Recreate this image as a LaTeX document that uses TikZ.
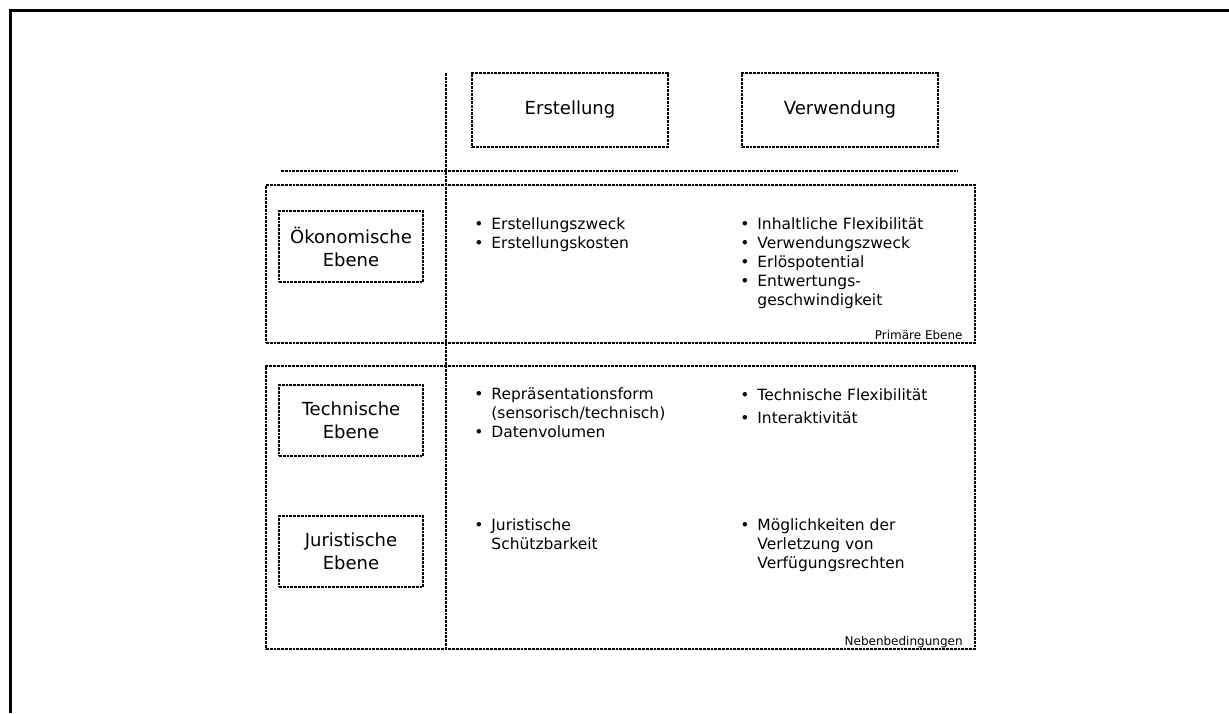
\documentclass[tikz,border=0pt]{standalone}
\usepackage{fontspec}
\setmainfont{DejaVu Sans}
\usetikzlibrary{positioning}

\tikzset{
  dots/.style={line width=1pt, dash pattern=on 1.4pt off 0.5pt},
  headbox/.style={draw, dots, minimum width=98pt, minimum height=37pt, inner sep=0pt, font=\fontsize{9}{11.5}\selectfont},
  levelbox/.style={draw, dots, minimum width=72pt, minimum height=35.5pt, inner sep=0pt, align=center, font=\fontsize{9}{11.5}\selectfont},
  levelframe/.style={draw, dots, minimum width=354.5pt, inner sep=0pt},
  items/.style={inner sep=0pt, anchor=base west, font=\fontsize{7.75}{9.5}\selectfont},
  note/.style={inner sep=0pt, anchor=base east, font=\fontsize{6}{7}\selectfont}
}
\newcommand{\lst}[1]{\begin{tabular}[t]{@{}p{8.5pt}@{}l@{}}#1\end{tabular}}

\begin{document}
\begin{tikzpicture}[x=0.5pt, y=-0.5pt]
    \useasboundingbox (0,0) rectangle (1229,713);
    \draw[line width=1.5pt] (1229,10.5) -- (10.5,10.5) -- (10.5,713);

    % column heads
    \node[headbox] (erst) at (570,110) {Erstellung};
    \node[headbox, right=36pt of erst] (verw) {Verwendung};

    % frames
    \node[levelframe, minimum height=79pt] (prim) at (620.5,264) {};
    \node[levelframe, minimum height=141.5pt] (neben) at (620.5,507.5) {};

    \coordinate (vtop) at (446,73);
    \coordinate (vbot) at (446,649);
    \coordinate (hleft) at (281,171);
    \coordinate (hright) at (958,171);
    \draw[dots] (vtop) -- (vbot);
    \draw[dots] (hleft) -- (hright);

    % levels
    \node[levelbox] (oeko) at (351,246.5) {Ökonomische\\Ebene};
    \node[levelbox] (tech) at (351,420.5) {Technische\\Ebene};
    \node[levelbox, below=29pt of tech] (jur) {Juristische\\Ebene};

    \node[items] (oekoE) at (474,229) {\lst{\textbullet & Erstellungszweck\\ \textbullet & Erstellungskosten}};
    \node[items] (oekoV) at (740,229) {\lst{\textbullet & Inhaltliche Flexibilität\\ \textbullet & Verwendungszweck\\ \textbullet & Erlöspotential\\ \textbullet & Entwertungs-\\ & geschwindigkeit}};

    \node[items] (techE) at (474,399) {\lst{\textbullet & Repräsentationsform\\ & (sensorisch/technisch)\\ \textbullet & Datenvolumen}};
    \node[items] (techV) at (740,400) {\lst{\textbullet & Technische Flexibilität\\[2.3pt] \textbullet & Interaktivität}};

    \node[items] (jurE) at (474,530) {\lst{\textbullet & Juristische\\ & Schützbarkeit}};
    \node[items] (jurV) at (740,530) {\lst{\textbullet & Möglichkeiten der\\ & Verletzung von\\ & Verfügungsrechten}};

    \node[note] (primL) at ([xshift=-6.5pt, yshift=2.5pt]prim.south east) {Primäre Ebene};
    \node[note] (nebenL) at ([xshift=-6.5pt, yshift=2.5pt]neben.south east) {Nebenbedingungen};
\end{tikzpicture}
\end{document}
